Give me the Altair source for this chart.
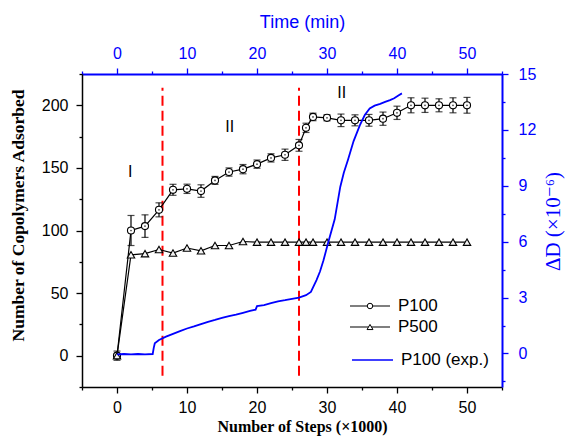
import altair as alt
import pandas as pd

# ---------------- data ----------------
steps = [0, 2, 4, 6, 8, 10, 12, 14, 16, 18, 20, 22, 24, 26, 27, 28, 30, 32, 34, 36, 38, 40, 42, 44, 46, 48, 50]
p100 = [0, 100, 103.5, 116.5, 132.5, 133.3, 131.5, 140, 146.7, 149, 153, 158, 160.5, 168, 182, 190.7,
        190, 188, 188, 188, 189.3, 194, 200, 200, 200, 200, 200]
p100_err = [3.7, 12, 9, 5.6, 4.4, 3.7, 5, 3.2, 3.3, 3.7, 3.3, 3.3, 4.5, 4.7, 3.7, 3, 2.4, 5, 4.4, 4.7,
            5.3, 5.3, 6, 5.7, 5.2, 6, 6.3]
p500 = [0, 80.6, 81.5, 84.8, 82, 86, 83.8, 88, 88, 91.2, 90.7, 90.7, 90.7, 90.7, 90.7, 90.7,
        90.7, 90.7, 90.7, 90.7, 90.7, 90.7, 90.7, 90.7, 90.7, 90.7, 90.7]

exp_time = [0, 1, 2, 3, 4, 5.1, 5.25, 5.4, 6, 7, 8, 9, 10, 11, 12, 13, 14, 15, 16, 17, 18, 19, 19.8, 20,
            21, 22, 23, 24, 25, 26, 27, 27.7, 28.5, 29, 29.5, 30.2, 31.1, 31.9, 32.4, 33, 33.8, 34.7,
            35.4, 36.1, 36.8, 37.6, 38.3, 39, 39.6, 40.2, 40.7]
exp_dD = [-0.05, -0.03, -0.05, -0.03, -0.05, -0.03, 0.3, 0.55, 0.72, 0.9, 1.05, 1.2, 1.34, 1.45, 1.58,
          1.7, 1.8, 1.91, 2.0, 2.08, 2.18, 2.28, 2.35, 2.54, 2.6, 2.7, 2.8, 2.86, 2.93, 3.0, 3.13, 3.3,
          3.94, 4.4, 5.0, 6.0, 7.2, 8.95, 9.7, 10.4, 11.4, 12.26, 12.8, 13.15, 13.3, 13.4, 13.5, 13.6,
          13.7, 13.85, 13.96]

phase_x = [6.5, 26]
phase_y0 = [-16, -16]
phase_y1 = [214, 214]

region_labels = ["I", "II", "II"]
region_x = [1.9, 16.1, 32.1]
region_y = [147, 183, 210]

legend_labels = ["P100", "P500", "P100 (exp.)"]

# ---------------- tables ----------------
sim = pd.DataFrame({
    "step": steps,
    "p100": p100,
    "lo": [v - e for v, e in zip(p100, p100_err)],
    "hi": [v + e for v, e in zip(p100, p100_err)],
    "p500": p500,
})
exp = pd.DataFrame({"time": exp_time, "dD": exp_dD})
phases = pd.DataFrame({"step": phase_x, "y0": phase_y0, "y1": phase_y1})
regions = pd.DataFrame({"step": region_x, "y": region_y, "label": region_labels})

BLUE = "#0000ff"
SANS = "Liberation Sans"
SERIF = "Liberation Serif"

x_scale = alt.Scale(domain=[-5, 55], nice=False, zero=False)
y_scale = alt.Scale(domain=[-25, 225], nice=False, zero=False)
r_scale = alt.Scale(domain=[-1.8, 15], nice=False, zero=False)

bottom_axis = alt.Axis(
    orient="bottom", values=list(range(-5, 60, 5)),
    labelExpr="datum.value % 10 === 0 ? datum.label : ''",
    tickSize={"condition": {"test": "datum.value % 10 === 0", "value": 6}, "value": 3},
    tickColor="black", tickWidth=1.3, domainColor="black", domainWidth=1.5,
    labelFont=SANS, labelFontSize=16, labelColor="black", labelPadding=6, labelFlush=False,
    title="Number of Steps (×1000)", titleFont=SERIF, titleFontWeight="bold", titleFontSize=16,
    titleColor="black", titleX=220, titleY=39, titleBaseline="middle", grid=False,
)
left_axis = alt.Axis(
    orient="left", values=list(range(-25, 250, 25)),
    labelExpr="datum.value % 50 === 0 ? datum.label : ''",
    tickSize={"condition": {"test": "datum.value % 50 === 0", "value": 6}, "value": 3},
    tickColor="black", tickWidth=1.3, domainColor="black", domainWidth=1.5,
    labelFont=SANS, labelFontSize=16, labelColor="black", labelPadding=8, labelFlush=False,
    title="Number of Copolymers Adsorbed", titleFont=SERIF, titleFontWeight="bold", titleFontSize=17.5,
    titleColor="black", titleX=-64, titleY=141, titleBaseline="middle", titleAngle=270, grid=False,
)
top_axis = alt.Axis(
    orient="top", values=list(range(-5, 60, 5)),
    labelExpr="datum.value % 10 === 0 ? datum.label : ''",
    tickSize={"condition": {"test": "datum.value % 10 === 0", "value": 6}, "value": 3},
    tickColor=BLUE, tickWidth=1.3, domainColor=BLUE, domainWidth=2,
    labelFont=SANS, labelFontSize=16, labelColor=BLUE, labelPadding=15, labelBaseline="middle",
    labelFlush=False,
    title="Time (min)", titleFont=SANS, titleFontWeight="normal", titleFontSize=18,
    titleColor=BLUE, titleX=220, titleY=-52, titleBaseline="middle", grid=False,
)
right_axis = alt.Axis(
    orient="right", values=[-1.5 + 1.5 * i for i in range(12)],
    labelExpr="datum.value % 3 === 0 ? datum.label : ''",
    tickSize={"condition": {"test": "datum.value % 3 === 0", "value": 6}, "value": 3},
    tickColor=BLUE, tickWidth=1.3, domainColor=BLUE, domainWidth=2,
    labelFont=SANS, labelFontSize=16, labelColor=BLUE, labelPadding=10, labelFlush=False,
    title="ΔD (×10⁻⁶)", titleFont=SERIF + ", DejaVu Serif", titleFontWeight="normal", titleFontSize=21,
    titleColor=BLUE, titleX=51, titleY=147, titleBaseline="middle", titleAngle=270, grid=False,
)


def X(field):
    return alt.X(field, type="quantitative", scale=x_scale, axis=bottom_axis)


def Y(field):
    return alt.Y(field, type="quantitative", scale=y_scale, axis=left_axis)


base = alt.Chart(sim)

phase_rules = alt.Chart(phases).mark_rule(color="#ff0000", strokeWidth=2, strokeDash=[10, 5]).encode(
    x=X("step"), y=Y("y0"), y2="y1"
)
p100_line = base.mark_line(color="black", strokeWidth=1.2).encode(x=X("step"), y=Y("p100"))
p500_line = base.mark_line(color="black", strokeWidth=1.2).encode(x=X("step"), y=Y("p500"))
err_rule = base.mark_rule(color="black", strokeWidth=1.2).encode(x=X("step"), y=Y("lo"), y2="hi")
cap_lo = base.mark_tick(orient="horizontal", color="black", size=7, thickness=1.2).encode(x=X("step"), y=Y("lo"))
cap_hi = base.mark_tick(orient="horizontal", color="black", size=7, thickness=1.2).encode(x=X("step"), y=Y("hi"))
p100_pts = base.mark_point(shape="circle", filled=True, fill="white", stroke="black", strokeWidth=1.1,
                           size=50, opacity=1).encode(x=X("step"), y=Y("p100"))
p100_dots = base.mark_point(shape="circle", filled=True, color="#444", size=3, opacity=1).encode(
    x=X("step"), y=Y("p100"))
p500_pts = base.mark_point(shape="triangle-up", filled=True, fill="#f2f2f2", stroke="black", strokeWidth=1.1,
                           size=55, opacity=1).encode(x=X("step"), y=Y("p500"))
region_text = alt.Chart(regions).mark_text(font=SANS, fontSize=16, color="black").encode(
    x=X("step"), y=Y("y"), text="label"
)

sim_layer = alt.layer(phase_rules, p100_line, p500_line, err_rule, cap_lo, cap_hi, p100_pts, p100_dots,
                      p500_pts, region_text)

exp_line = alt.Chart(exp).mark_line(color=BLUE, strokeWidth=1.8).encode(
    x=alt.X("time:Q", scale=x_scale, axis=top_axis),
    y=alt.Y("dD:Q", scale=r_scale, axis=right_axis),
)

# ---------------- legend (drawn manually) ----------------
one = alt.Data(values=[{"a": 1}])
leg_rows = [232, 253, 286]
legend_parts = []
for lab, yy, col in zip(legend_labels, leg_rows, ["black", "black", BLUE]):
    x0, x1 = (268, 308) if col == "black" else (270, 311)
    legend_parts.append(alt.Chart(one).mark_rule(color=col, strokeWidth=1.5 if col == BLUE else 1.2).encode(
        x=alt.value(x0), x2=alt.value(x1), y=alt.value(yy)))
    legend_parts.append(alt.Chart(one).mark_text(text=lab, font=SANS, fontSize=17, color="black",
                                                 align="left", baseline="middle").encode(
        x=alt.value(x1 + 8), y=alt.value(yy)))
legend_parts.append(alt.Chart(one).mark_point(shape="circle", filled=True, fill="white", stroke="black",
                                              strokeWidth=1, size=30, opacity=1).encode(
    x=alt.value(288), y=alt.value(leg_rows[0])))
legend_parts.append(alt.Chart(one).mark_point(shape="triangle-up", filled=True, fill="white", stroke="black",
                                              strokeWidth=1, size=35, opacity=1).encode(
    x=alt.value(288), y=alt.value(leg_rows[1])))

chart = alt.layer(sim_layer, exp_line, *legend_parts).resolve_scale(
    x="independent", y="independent"
).properties(
    width=420, height=313,
    padding={"left": 74, "top": 66, "right": 64, "bottom": 49},
    autosize=alt.AutoSizeParams(type="none"),
).configure_view(stroke=None).configure(background="white")

chart.save("out.html", embed_options={"renderer": "svg", "actions": False})
